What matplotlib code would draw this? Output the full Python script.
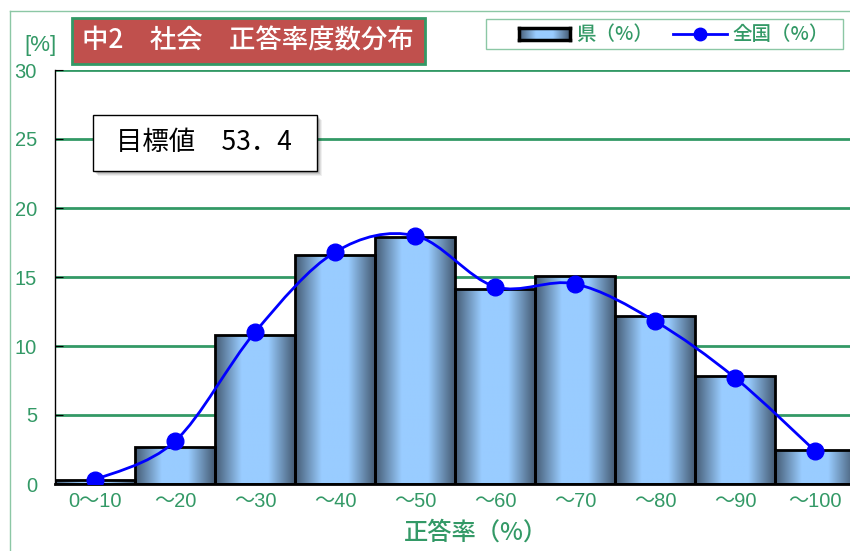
import matplotlib
matplotlib.use("Agg")
import matplotlib.pyplot as plt
import numpy as np
from matplotlib.colors import LinearSegmentedColormap
from matplotlib.patches import Rectangle, PathPatch
from matplotlib.path import Path
from matplotlib.lines import Line2D

plt.rcParams['font.family'] = ['Noto Sans CJK JP', 'DejaVu Sans']

# データ
categories = ["0～10", "～20", "～30", "～40", "～50", "～60", "～70", "～80", "～90", "～100"]
pref_pct = [0.3, 2.7, 10.8, 16.6, 17.9, 14.1, 15.1, 12.2, 7.8, 2.5]      # 県
nation_pct = [0.3, 3.1, 11.0, 16.8, 18.0, 14.3, 14.5, 11.8, 7.7, 2.4]   # 全国
y_ticks = [0, 5, 10, 15, 20, 25, 30]

GREEN = "#339966"
W, H = 850, 551

def fx(px):
    return px / W

def fy(py):
    return 1 - py / H

fig = plt.figure(figsize=(8.5, 5.51), dpi=100)
ax = fig.add_axes([fx(55), fy(484), 800 / W, 414 / H])

x = np.arange(len(categories))

# グラデーション付きの棒
bar_cmap = LinearSegmentedColormap.from_list("bar", ["#445b73", "#99ccff", "#99ccff", "#445b73"])
grad = np.linspace(0, 1, 256).reshape(1, -1)
bars = ax.bar(x, pref_pct, width=1.0, facecolor="none", edgecolor="black", linewidth=2, zorder=3)
for b in bars:
    x0, w, h = b.get_x(), b.get_width(), b.get_height()
    im = ax.imshow(grad, extent=[x0, x0 + w, 0, h], aspect="auto", cmap=bar_cmap, zorder=2)
    im.set_clip_path(b)

# 全国（滑らかな線）
pts = np.column_stack([x, nation_pct]).astype(float)
n = len(pts)
verts = [pts[0]]
codes = [Path.MOVETO]
for i in range(n - 1):
    p0 = pts[max(i - 1, 0)]
    p1 = pts[i]
    p2 = pts[i + 1]
    p3 = pts[min(i + 2, n - 1)]
    verts += [p1 + (p2 - p0) / 6, p2 - (p3 - p1) / 6, p2]
    codes += [Path.CURVE4] * 3
ax.add_patch(PathPatch(Path(verts, codes), facecolor="none", edgecolor="#0000ff", lw=2, zorder=4))
ax.plot(x, nation_pct, "o", ls="none", color="#0000ff", ms=12, zorder=5)

ax.set_xlim(-0.5, 9.5)
ax.set_ylim(0, 30)
ax.set_yticks(y_ticks)
ax.set_xticks(x)
ax.set_xticklabels(categories)
for lab in ax.get_xticklabels() + ax.get_yticklabels():
    lab.set_family(['Liberation Sans', 'Noto Sans CJK JP'])
ax.tick_params(axis="y", direction="in", length=6, color="black", labelcolor=GREEN, labelsize=14.5, pad=13)
ax.tick_params(axis="x", length=0, labelcolor=GREEN, labelsize=14.5, pad=6)
ax.yaxis.grid(True, color=GREEN, lw=2)
ax.set_axisbelow(True)
for s in ["top", "right"]:
    ax.spines[s].set_visible(False)
ax.spines["left"].set_linewidth(1)
ax.spines["bottom"].set_linewidth(2)

# 外枠
fig.add_artist(Line2D([fx(9.5), fx(9.5)], [fy(11), 0], color="#8cc7a5", lw=1))
fig.add_artist(Line2D([fx(9.5), 1], [fy(11), fy(11)], color="#8cc7a5", lw=1))

# ラベル類
fig.text(fx(40), fy(45), "[%]", color=GREEN, fontsize=16, ha="center", va="center",
         family=['Liberation Sans Narrow', 'Liberation Sans'])
fig.text(fx(476), fy(533), "正答率（%）", color=GREEN, fontsize=17.5, ha="center", va="center",
         weight="medium")

# タイトル
fig.add_artist(Rectangle((fx(72), fy(64)), fx(425) - fx(72), fy(18) - fy(64), transform=fig.transFigure,
                         facecolor="#c0504d", edgecolor=GREEN, lw=2))
fig.text(fx(248), fy(41), "中2　社会　正答率度数分布", color="white", fontsize=19, ha="center", va="center",
         weight="medium")

# 目標値ボックス（影付き）
for k, a in enumerate([0.06, 0.08, 0.1, 0.12]):
    off = 5 - k
    fig.add_artist(Rectangle((fx(93 + off), fy(171 + off)), fx(317) - fx(93), fy(115) - fy(171),
                             transform=fig.transFigure, facecolor="black", edgecolor="none", alpha=a, zorder=6))
fig.add_artist(Rectangle((fx(93), fy(171)), fx(317) - fx(93), fy(115) - fy(171), transform=fig.transFigure,
                         facecolor="white", edgecolor="black", lw=1, zorder=7))
fig.text(fx(204), fy(143), "目標値　53．4", color="black", fontsize=19, ha="center", va="center", zorder=8)

# 凡例
fig.add_artist(Rectangle((fx(486), fy(49)), fx(843) - fx(486), fy(19) - fy(49), transform=fig.transFigure,
                         facecolor="white", edgecolor="#8cc7a5", lw=1, zorder=0.5))
lax = fig.add_axes([fx(519), fy(40), fx(570) - fx(519), fy(28) - fy(40)])
lax.set_zorder(3)
lax.imshow(grad, aspect="auto", cmap=bar_cmap)
lax.set_xticks([])
lax.set_yticks([])
for s in lax.spines.values():
    s.set_linewidth(2.5)
fig.text(fx(576), fy(34), "県（%）", color=GREEN, fontsize=14, ha="left", va="center", weight="medium")
fig.add_artist(Line2D([fx(673), fx(727)], [fy(34), fy(34)], color="#0000ff", lw=2))
fig.add_artist(Line2D([fx(700)], [fy(34)], marker="o", color="#0000ff", ms=9))
fig.text(fx(732), fy(34), "全国（%）", color=GREEN, fontsize=14, ha="left", va="center", weight="medium")

fig.savefig("out.png", dpi=100)
